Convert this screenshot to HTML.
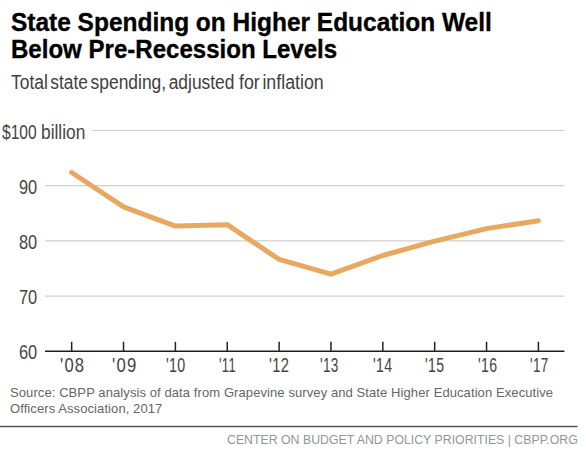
<!DOCTYPE html>
<html><head><meta charset="utf-8">
<style>
html,body{margin:0;padding:0;background:#fff;}
body{width:586px;height:456px;position:relative;overflow:hidden;font-family:"Liberation Sans",sans-serif;}
.t{position:absolute;white-space:nowrap;line-height:1;transform-origin:0 0;}
.ti{font-weight:bold;font-size:26px;color:#000;-webkit-text-stroke:0.35px #000;}
#t1{left:11px;top:9px;transform:scaleX(0.941);}
#t2{left:11px;top:36px;transform:scaleX(0.925);}
.sub{top:71.7px;font-size:20px;color:#404040;word-spacing:-2.6px;}
#sub{left:11px;transform:scaleX(0.87);}
#sub2{left:239px;transform:scaleX(0.89);}
.yl{font-size:20.5px;color:#454545;}
#y100{left:2px;top:121.5px;transform:scaleX(0.76);}
#ybil{left:41px;top:121.5px;transform:scaleX(0.845);}
.yn{left:18.6px;transform:scaleX(0.8);}
.xl{font-size:20.5px;color:#454545;top:354.7px;transform:scaleX(0.78);letter-spacing:1.5px;}
.src{font-size:13px;color:#666;letter-spacing:0.09px;}
#foot{left:227px;top:433.6px;font-size:12.5px;color:#959595;transform:scaleX(0.985);}
svg{position:absolute;left:0;top:0;}
</style></head><body>
<div class="t ti" id="t1">State Spending on Higher Education Well</div>
<div class="t ti" id="t2">Below Pre-Recession Levels</div>
<div class="t sub" id="sub">Total state spending, adjusted</div>
<div class="t sub" id="sub2">for inflation</div>
<svg width="586" height="456">
  <g stroke="#cfcfcf" stroke-width="1.2">
    <line x1="92" y1="130.5" x2="564.2" y2="130.5"/>
    <line x1="45" y1="185.7" x2="564.2" y2="185.7"/>
    <line x1="45" y1="240.9" x2="564.2" y2="240.9"/>
    <line x1="45" y1="296.1" x2="564.2" y2="296.1"/>
  </g>
  <line x1="45" y1="351.2" x2="564.4" y2="351.2" stroke="#1e1e1e" stroke-width="1.5"/>
  <g stroke="#222" stroke-width="1.5">
    <line x1="71.67" y1="341.8" x2="71.67" y2="351.1"/>
    <line x1="123.53" y1="341.8" x2="123.53" y2="351.1"/>
    <line x1="175.39" y1="341.8" x2="175.39" y2="351.1"/>
    <line x1="227.25" y1="341.8" x2="227.25" y2="351.1"/>
    <line x1="279.11" y1="341.8" x2="279.11" y2="351.1"/>
    <line x1="330.97" y1="341.8" x2="330.97" y2="351.1"/>
    <line x1="382.83" y1="341.8" x2="382.83" y2="351.1"/>
    <line x1="434.69" y1="341.8" x2="434.69" y2="351.1"/>
    <line x1="486.55" y1="341.8" x2="486.55" y2="351.1"/>
    <line x1="538.41" y1="341.8" x2="538.41" y2="351.1"/>
  </g>
  <polyline id="ln" fill="none" stroke="#E9A85F" stroke-width="5" stroke-linecap="round" stroke-linejoin="round"
    points="71.67,172.5 123.53,206.9 175.39,226.1 227.25,224.7 279.11,259.4 330.97,274.2 382.83,255.5 434.69,241.1 486.55,228.6 538.41,220.8"/>
  <line x1="0" y1="426.4" x2="577.5" y2="426.4" stroke="#555" stroke-width="1.5"/>
</svg>
<div class="t yl" id="y100">$100</div>
<div class="t yl" id="ybil">billion</div>
<div class="t yl yn" style="top:176.5px;">90</div>
<div class="t yl yn" style="top:231.7px;">80</div>
<div class="t yl yn" style="top:286.8px;">70</div>
<div class="t yl yn" style="top:342.0px;">60</div>
<div class="t xl" style="left:59.53px;transform:scaleX(0.809);letter-spacing:1.5px;">'08</div>
<div class="t xl" style="left:112.20px;transform:scaleX(0.816);letter-spacing:1.5px;">'09</div>
<div class="t xl" style="left:165.59px;transform:scaleX(0.695);letter-spacing:0.5px;">'10</div>
<div class="t xl" style="left:218.98px;transform:scaleX(0.634);letter-spacing:0.5px;">'11</div>
<div class="t xl" style="left:269.12px;transform:scaleX(0.718);letter-spacing:0.5px;">'12</div>
<div class="t xl" style="left:320.35px;transform:scaleX(0.663);letter-spacing:0.5px;">'13</div>
<div class="t xl" style="left:373.39px;transform:scaleX(0.687);letter-spacing:0.5px;">'14</div>
<div class="t xl" style="left:425.08px;transform:scaleX(0.687);letter-spacing:0.5px;">'15</div>
<div class="t xl" style="left:477.76px;transform:scaleX(0.687);letter-spacing:0.5px;">'16</div>
<div class="t xl" style="left:530.28px;transform:scaleX(0.656);letter-spacing:0.5px;">'17</div>
<div class="t src" style="left:10px;top:386px;">Source: CBPP analysis of data from Grapevine survey and State Higher Education Executive</div>
<div class="t src" style="left:10px;top:402px;">Officers Association, 2017</div>
<div class="t" id="foot">CENTER ON BUDGET AND POLICY PRIORITIES | CBPP.ORG</div>
</body></html>
